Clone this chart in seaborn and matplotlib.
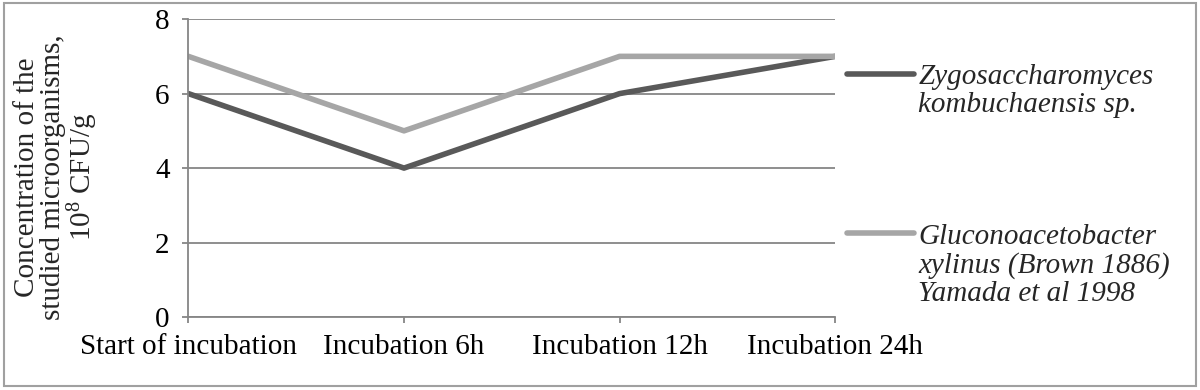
import numpy as np
import pandas as pd
import matplotlib.pyplot as plt
import seaborn as sns
from matplotlib.legend_handler import HandlerLine2D

# values
stages = ["Start of incubation", "Incubation 6h", "Incubation 12h", "Incubation 24h"]
zygo = [6, 4, 6, 7]
glucono = [7, 5, 7, 7]
series_names = ["Zygosaccharomyces\nkombuchaensis sp.",
                "Gluconoacetobacter\nxylinus (Brown 1886)\nYamada et al 1998"]
series_colors = ["#595959", "#a6a6a6"]

sns.set_theme(style="white")
plt.rcParams['font.family'] = ['Liberation Serif', 'DejaVu Serif']

FS = 21
LS = 1.1

df = pd.DataFrame({
    "pos": list(range(len(stages))) * 2,
    "value": zygo + glucono,
    "series": [series_names[0]] * len(stages) + [series_names[1]] * len(stages),
})


# legend line sits next to the first text line, like Excel does it
class FirstLineHandler(HandlerLine2D):
    def __init__(self, shift, **kw):
        super().__init__(**kw)
        self.shift = shift

    def create_artists(self, legend, orig_handle, xdescent, ydescent, width, height, fontsize, trans):
        arts = super().create_artists(legend, orig_handle, xdescent, ydescent, width, height, fontsize, trans)
        for a in arts:
            a.set_ydata(np.asarray(a.get_ydata(), dtype=float) + self.shift)
        return arts


fig = plt.figure(figsize=(12, 3.9), dpi=100)
ax = fig.add_axes([0.157, 0.187, 0.539, 0.764])

sns.lineplot(data=df, x="pos", y="value", hue="series", palette=series_colors,
             linewidth=4.0, ax=ax, solid_capstyle="round")

ax.set_xlim(0, len(stages) - 1)
ax.set_ylim(0, 8)
ax.set_xticks(range(len(stages)))
ax.set_xticklabels(stages, fontsize=FS)
ax.set_yticks([0, 2, 4, 6, 8])
ax.set_yticklabels(["0", "2", "4", "6", "8"], fontsize=FS)
ax.set_xlabel("")
ax.set_ylabel("Concentration of the\nstudied microorganisms,\n$\\mathregular{10^8}$ CFU/g", fontsize=FS,
              linespacing=1.0)
ax.yaxis.set_label_coords(-0.136, 0.47)

ax.yaxis.grid(True, color="#868686", linewidth=1.3)
ax.set_axisbelow(True)
for s in ["top", "right"]:
    ax.spines[s].set_visible(False)
for s in ["left", "bottom"]:
    ax.spines[s].set_color("#868686")
    ax.spines[s].set_linewidth(1.3)
ax.tick_params(axis="both", which="both", direction="out", length=4.5, width=1.3,
               color="#868686", left=True, bottom=True, labelcolor="black")
ax.tick_params(axis="y", pad=9)
ax.tick_params(axis="x", pad=8)

handles, labels = ax.get_legend_handles_labels()
hmap = {}
for h, lab in zip(handles, labels):
    n = lab.count("\n")
    hmap[h] = FirstLineHandler(n * 0.5 * FS * LS)
leg = ax.legend(handles, labels, loc="upper left", bbox_to_anchor=(1.0, 0.89),
                frameon=False, handlelength=2.3, handletextpad=0.15,
                labelspacing=3.65, borderaxespad=0, handler_map=hmap,
                prop={"size": FS, "style": "italic"})
for t in leg.get_texts():
    t.set_linespacing(LS)

# outer border of the figure
fig.patches.append(plt.Rectangle((0.003, 0.01), 0.994, 0.982, transform=fig.transFigure,
                                 fill=False, edgecolor="#a0a0a0", linewidth=1.5))

plt.savefig("out.png", dpi=100)
